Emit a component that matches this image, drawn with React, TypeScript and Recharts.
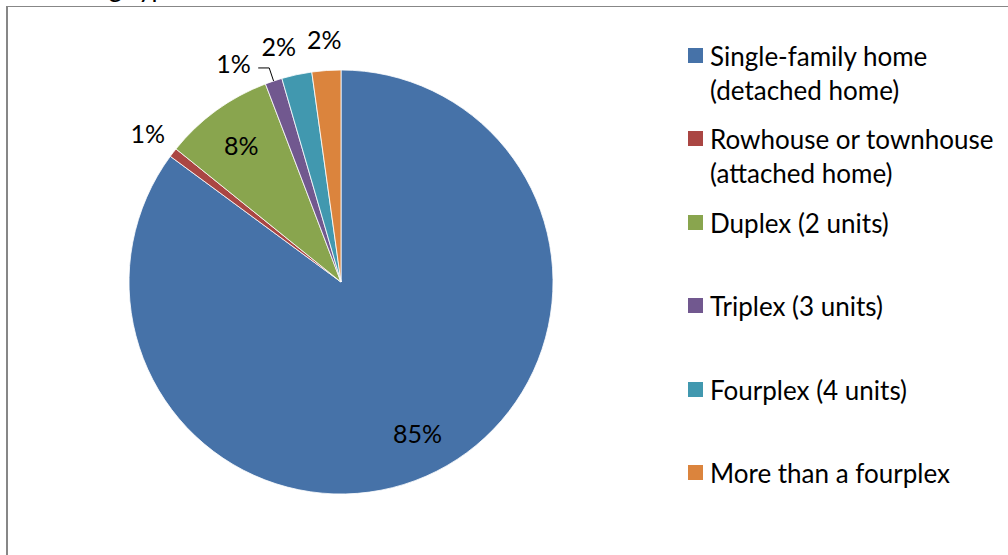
import { Pie, PieChart, Cell } from "recharts";

const homeTypes = [
  "Single-family home (detached home)",
  "Rowhouse or townhouse (attached home)",
  "Duplex (2 units)",
  "Triplex (3 units)",
  "Fourplex (4 units)",
  "More than a fourplex",
];

const sharePercent = [85.1, 0.7, 8.4, 1.3, 2.3, 2.2];

const sliceColors = ["#4672a8", "#aa4643", "#89a54e", "#71588f", "#4198af", "#db843d"];

const chartTitle = "Housing type";

const pieData = homeTypes.map((name, i) => ({ name, value: sharePercent[i] }));

const RAD = Math.PI / 180;
const FONT = "Lato, 'Open Sans', sans-serif";

// small outside labels get spread apart (degrees, counter-clockwise) like Excel does
const labelNudge: Record<number, number> = { 3: 7.6, 4: 2.7 };

const polar = (cx: number, cy: number, r: number, deg: number) => ({
  x: cx + r * Math.cos(-deg * RAD),
  y: cy + r * Math.sin(-deg * RAD),
});

function renderLabel(props: any) {
  const { cx, cy, midAngle, outerRadius, percent, index } = props;
  const inside = percent >= 0.05;
  const nudge = labelNudge[index] || 0;
  const r = inside ? outerRadius * 0.8 : outerRadius * 1.15;
  const p = polar(cx, cy, r, midAngle + nudge);
  const text = `${Math.round(percent * 100)}%`;

  let leader = null;
  if (nudge > 5) {
    const edge = polar(cx, cy, outerRadius, midAngle);
    const elbow = polar(cx, cy, outerRadius * 1.065, midAngle);
    leader = (
      <polyline
        points={`${edge.x},${edge.y} ${elbow.x},${elbow.y} ${elbow.x - 11},${elbow.y}`}
        fill="none"
        stroke="#000"
        strokeWidth={1}
      />
    );
  }

  return (
    <g>
      {leader}
      <text
        x={p.x}
        y={p.y}
        textAnchor="middle"
        dominantBaseline="central"
        fill="#000"
        fontSize={25}
        fontFamily={FONT}
      >
        {text}
      </text>
    </g>
  );
}

function LegendBox() {
  return (
    <div
      style={{
        position: "absolute",
        left: 688,
        top: 39,
        fontFamily: FONT,
        fontSize: 26,
        lineHeight: "34px",
        color: "#000",
      }}
    >
      {homeTypes.map((name, i) => (
        <div key={name} style={{ display: "flex", height: 83.4 }}>
          <span
            style={{
              width: 15,
              height: 15,
              marginTop: 9,
              marginRight: 7,
              background: sliceColors[i],
              flex: "none",
            }}
          />
          <span style={{ width: 296 }}>{name}</span>
        </div>
      ))}
    </div>
  );
}

export default function App() {
  return (
    <div
      style={{
        position: "absolute",
        left: 0,
        top: 0,
        width: 1008,
        height: 555,
        overflow: "hidden",
        background: "#fff",
      }}
    >
      <div
        style={{
          position: "absolute",
          left: 28,
          top: -28,
          fontFamily: FONT,
          fontSize: 26,
          lineHeight: "30px",
          whiteSpace: "nowrap",
        }}
      >
        {chartTitle}
      </div>
      <div
        style={{
          position: "absolute",
          left: 6,
          top: 6,
          width: 1100,
          height: 600,
          borderLeft: "2px solid #878787",
          borderTop: "1.5px solid #878787",
        }}
      />
      <div style={{ position: "absolute", left: 0, top: 0 }}>
        <PieChart width={1008} height={555} margin={{ top: 0, right: 0, bottom: 0, left: 0 }}>
          <Pie
            data={pieData}
            dataKey="value"
            nameKey="name"
            cx={341}
            cy={282}
            outerRadius={212}
            startAngle={90}
            endAngle={-270}
            stroke="#ffffff"
            strokeWidth={0.8}
            label={renderLabel}
            labelLine={false}
            isAnimationActive={false}
          >
            {pieData.map((d, i) => (
              <Cell key={d.name} fill={sliceColors[i]} />
            ))}
          </Pie>
        </PieChart>
      </div>
      <LegendBox />
    </div>
  );
}
